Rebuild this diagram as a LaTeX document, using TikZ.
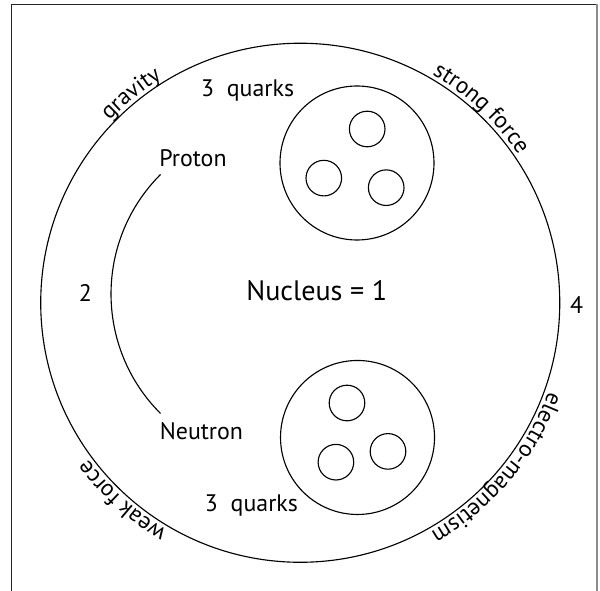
\documentclass[tikz,border=0pt]{standalone}
\usepackage{fontspec}
\setmainfont{PT Sans}
\usetikzlibrary{decorations.text}
\newcommand{\forcefont}{\fontsize{16.5}{19}\selectfont}
\tikzset{
  borderline/.style={line width=0.9pt, draw=black!85},
  bordershade/.style={line width=1.4pt, draw=black!45},
  shell/.style={line width=0.8pt, draw=black},
  nucleon/.style={line width=0.8pt, draw=black},
  quark/.style={line width=0.8pt, draw=black},
  link/.style={line width=0.8pt, draw=black},
  tag/.style={font=\fontsize{17}{20}\selectfont, anchor=base, inner sep=0pt},
  bigtag/.style={font=\fontsize{20}{24}\selectfont, anchor=base, inner sep=0pt},
  forcetext/.style={decorate, decoration={text along path, text align=center, text={#1}}},
}

\begin{document}
\begin{tikzpicture}
\useasboundingbox (0,0) rectangle (15.0,14.775);
% border of the page
\draw[borderline] (0.288,0) |- (14.913,14.663);
\draw[bordershade] (14.913,14.663) -- (14.913,0);
% outer shell and the two nucleons
\draw[shell] (7.506,7.206) circle (6.488);
\draw[nucleon] (8.925,10.700) circle (1.925);
\draw[nucleon] (8.938,3.838) circle (1.925);
\draw[quark] (9.180,11.550) circle (0.445);
\draw[quark] (8.095,10.322) circle (0.445);
\draw[quark] (9.655,10.083) circle (0.445);
\draw[quark] (8.675,4.700) circle (0.445);
\draw[quark] (8.398,3.220) circle (0.445);
\draw[quark] (9.700,3.490) circle (0.445);
% labels
\node[tag] (quarksup) at (6.190,12.358) {3\ \ quarks};
\node[tag] (proton) at (4.825,10.608) {Proton};
\node[tag] (neutron) at (5.035,3.792) {Neutron};
\node[tag] (quarksdown) at (6.285,1.983) {3\ \ quarks};
\node[tag] (two) at (2.135,7.243) {2};
\node[tag] (four) at (14.413,6.925) {4};
\node[bigtag] (nucleus) at (7.918,7.258) {Nucleus = 1};
% proton -- neutron
\coordinate (ptip) at (4.013,10.413);
\draw[link] (ptip) arc[start angle=135, end angle=225, radius=4.225];
% forces round the shell
\path[forcetext={|\forcefont|gravity}] (7.506,7.206) ++(169:6.59) arc[start angle=169, end angle=89, radius=6.59];
\path[forcetext={|\forcefont|strong force}] (7.506,7.206) ++(87:6.59) arc[start angle=87, end angle=7, radius=6.59];
\path[forcetext={|\forcefont|electro-magnetism}] (7.506,7.206) ++(0:6.59) arc[start angle=0, end angle=-80, radius=6.59];
\path[forcetext={|\forcefont|weak force}] (7.506,7.206) ++(268:6.59) arc[start angle=268, end angle=188, radius=6.59];
\end{tikzpicture}
\end{document}
